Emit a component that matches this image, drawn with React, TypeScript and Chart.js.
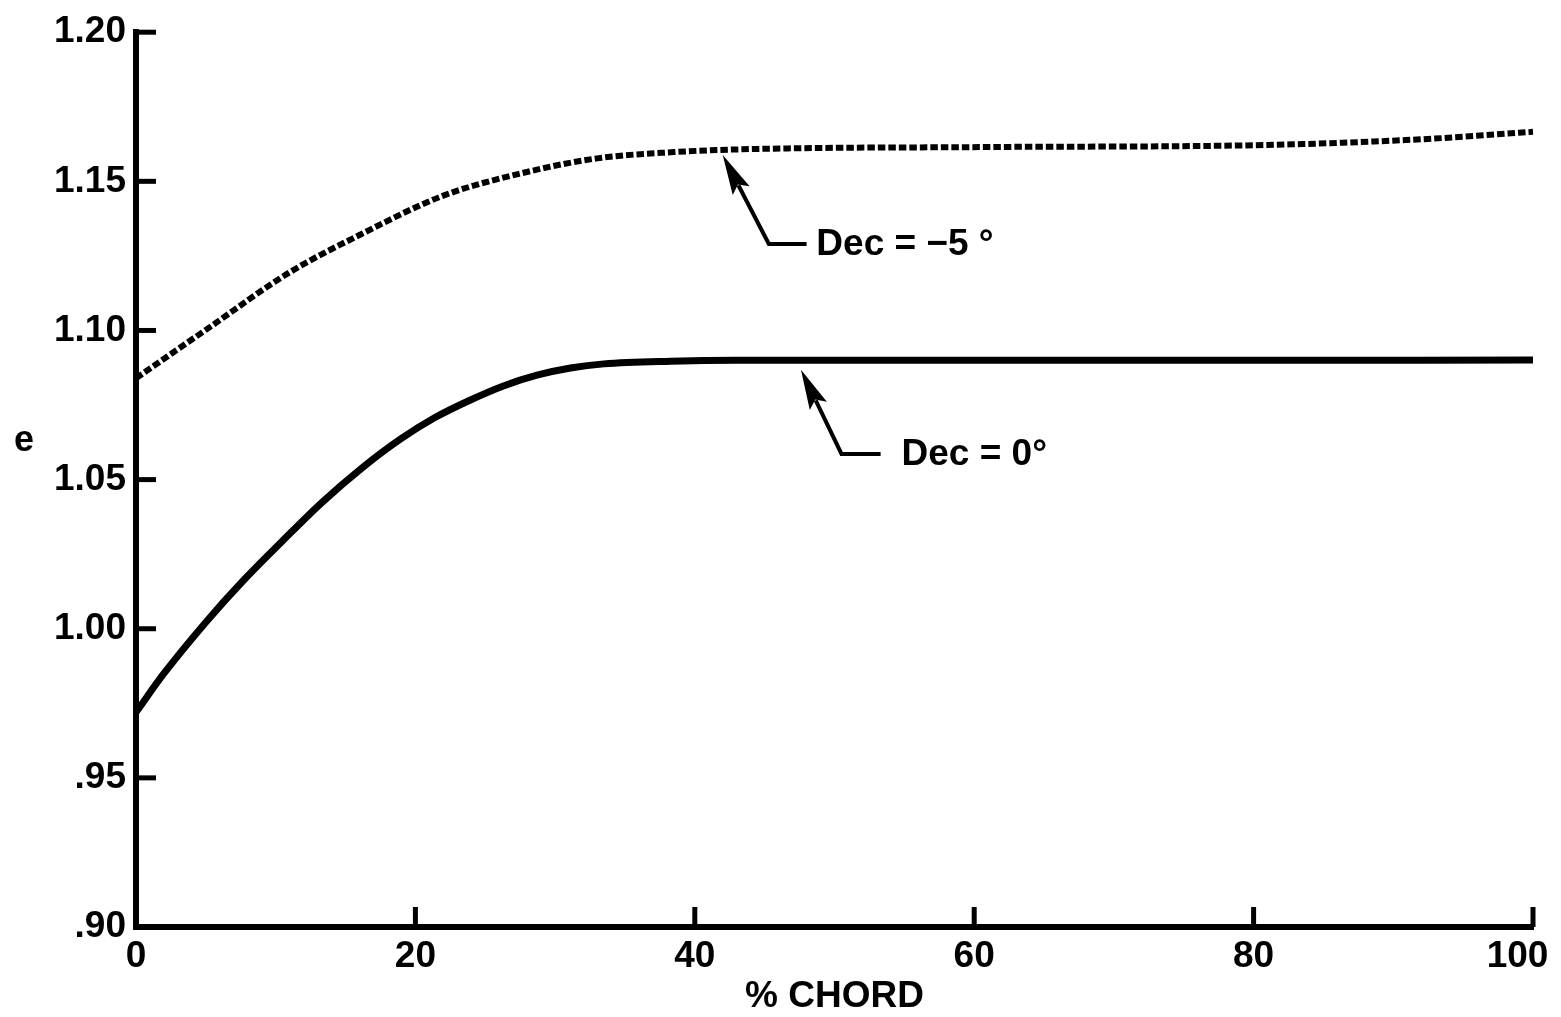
import React, { useEffect, useRef } from 'react';
import { Chart, registerables } from 'chart.js';

Chart.register(...registerables);

// ---- data (relative to its axes) ----
const DEC0_X = [0, 2, 5, 7.75, 10.5, 13.3, 16.2, 19, 21.4, 23.9, 26.3, 28.7, 31.1, 33.5, 38.3, 43, 60, 80, 100];
const DEC0_E = [0.972, 0.985, 1.0022, 1.0165, 1.0295, 1.0423, 1.054, 1.0638, 1.0708, 1.0766, 1.0814, 1.085, 1.0874, 1.0888, 1.0897, 1.09, 1.09, 1.09, 1.0901];

const DECM5_X = [0, 5, 11, 16, 22, 27.5, 33, 38.5, 43, 61, 80, 92, 100];
const DECM5_E = [1.084, 1.1002, 1.1195, 1.132, 1.1452, 1.1526, 1.1577, 1.1598, 1.1607, 1.1615, 1.1621, 1.1641, 1.1666];

const X_TICKS = [0, 20, 40, 60, 80, 100];
const Y_TICKS = [0.9, 0.95, 1.0, 1.05, 1.1, 1.15, 1.2];

const X_TITLE = '% CHORD';
const Y_TITLE = 'e';
const LABEL_DEC0 = 'Dec = 0°';
const LABEL_DECM5 = 'Dec = −5 °';

const FONT = '"Liberation Sans", Arial, Helvetica, sans-serif';

function fmtY(v: number): string {
  const s = v.toFixed(2);
  return v < 1 ? s.slice(1) : s;
}

function fmtX(v: number): string {
  // the last label sits left of its tick in the reference
  return v === 100 ? '100   ' : String(v);
}

const overlayPlugin = {
  id: 'overlay',
  afterDraw(chart: any) {
    const ctx = chart.ctx as CanvasRenderingContext2D;
    const xs = chart.scales.x;
    const ys = chart.scales.y;
    const { left, bottom } = chart.chartArea;
    ctx.save();
    ctx.strokeStyle = '#000';
    ctx.fillStyle = '#000';
    ctx.lineCap = 'butt';

    // inward tick marks
    ctx.lineWidth = 5;
    xs.ticks.forEach((t: any) => {
      if (t.value === 0) return;
      const px = xs.getPixelForValue(t.value);
      ctx.beginPath();
      ctx.moveTo(px, bottom);
      ctx.lineTo(px, bottom - 20);
      ctx.stroke();
    });
    ys.ticks.forEach((t: any) => {
      if (Math.abs(t.value - 0.9) < 1e-6) return;
      const py = ys.getPixelForValue(t.value);
      ctx.beginPath();
      ctx.moveTo(left, py);
      ctx.lineTo(left + 20, py);
      ctx.stroke();
    });

    // y-axis title (horizontal "e")
    ctx.font = `bold 36px ${FONT}`;
    ctx.textAlign = 'center';
    ctx.textBaseline = 'alphabetic';
    ctx.fillText(Y_TITLE, 24, ys.getPixelForValue(1.0625) + 9);

    // annotation arrows
    const arrow = (tipX: number, tipY: number, elbowX: number, elbowY: number, endX: number, labelX: number, label: string) => {
      const tx = xs.getPixelForValue(tipX);
      const ty = ys.getPixelForValue(tipY);
      const ex = xs.getPixelForValue(elbowX);
      const ey = ys.getPixelForValue(elbowY);
      const hx = xs.getPixelForValue(endX);
      const ang = Math.atan2(ty - ey, tx - ex);
      const L = 40;
      const W = 9.5;
      const c = Math.cos(ang);
      const s = Math.sin(ang);
      const bx = tx - L * c;
      const by = ty - L * s;
      ctx.lineWidth = 4;
      ctx.beginPath();
      ctx.moveTo(hx, ey);
      ctx.lineTo(ex, ey);
      ctx.lineTo(bx + 6 * c, by + 6 * s);
      ctx.stroke();
      ctx.beginPath();
      ctx.moveTo(tx, ty);
      ctx.lineTo(bx + W * s, by - W * c);
      ctx.lineTo(bx + 7 * c, by + 7 * s);
      ctx.lineTo(bx - W * s, by + W * c);
      ctx.closePath();
      ctx.fill();
      ctx.font = `bold 37px ${FONT}`;
      ctx.textAlign = 'left';
      ctx.textBaseline = 'middle';
      ctx.fillText(label, xs.getPixelForValue(labelX), ey + 1);
    };
    arrow(42.0, 1.1588, 45.3, 1.129, 48.0, 48.7, LABEL_DECM5);
    arrow(47.6, 1.0868, 50.5, 1.0586, 53.3, 54.8, LABEL_DEC0);

    ctx.restore();
  },
};

export default function App() {
  const canvasRef = useRef<HTMLCanvasElement | null>(null);

  useEffect(() => {
    const canvas = canvasRef.current;
    if (!canvas) return;
    const chart = new Chart(canvas, {
      type: 'line',
      data: {
        datasets: [
          {
            label: LABEL_DEC0,
            data: DEC0_X.map((x, i) => ({ x, y: DEC0_E[i] })),
            borderColor: '#000',
            borderWidth: 7,
            pointRadius: 0,
            fill: false,
            cubicInterpolationMode: 'monotone',
            clip: 8,
          },
          {
            label: LABEL_DECM5,
            data: DECM5_X.map((x, i) => ({ x, y: DECM5_E[i] })),
            borderColor: '#000',
            borderWidth: 6,
            borderDash: [7.5, 3],
            borderCapStyle: 'butt',
            pointRadius: 0,
            fill: false,
            cubicInterpolationMode: 'monotone',
            clip: 8,
          },
        ],
      } as any,
      options: {
        animation: false,
        responsive: true,
        maintainAspectRatio: false,
        layout: { padding: { top: 27, right: 67, left: 0, bottom: 0 } },
        plugins: {
          legend: { display: false },
          tooltip: { enabled: false },
        },
        scales: {
          x: {
            type: 'linear',
            min: 0,
            max: 100,
            afterBuildTicks: (s: any) => {
              s.ticks = X_TICKS.map((v) => ({ value: v }));
            },
            afterFit: (s: any) => {
              s.height = 90;
            },
            grid: { display: false, drawTicks: false },
            border: { display: true, color: '#000', width: 6 },
            ticks: {
              color: '#000',
              padding: 8,
              font: { size: 37, weight: 'bold', family: FONT },
              callback: (v: any) => fmtX(Number(v)),
            },
            title: {
              display: true,
              text: X_TITLE,
              color: '#000',
              padding: { top: 0, bottom: 0 },
              font: { size: 37, weight: 'bold', family: FONT, lineHeight: 1.1 },
            },
          },
          y: {
            type: 'linear',
            min: 0.9,
            max: 1.2,
            afterBuildTicks: (s: any) => {
              s.ticks = Y_TICKS.map((v) => ({ value: v }));
            },
            afterFit: (s: any) => {
              s.width = 136;
            },
            grid: { display: false, drawTicks: false },
            border: { display: true, color: '#000', width: 6 },
            ticks: {
              color: '#000',
              padding: 10,
              font: { size: 37, weight: 'bold', family: FONT },
              callback: (v: any) => fmtY(Number(v)),
            },
          },
        },
      } as any,
      plugins: [overlayPlugin],
    });
    return () => chart.destroy();
  }, []);

  return (
    <div
      style={{
        position: 'fixed',
        left: 0,
        top: 0,
        width: 1561,
        height: 1017,
        overflow: 'hidden',
        background: '#fff',
      }}
    >
      <div style={{ position: 'relative', width: 1600, height: 1017 }}>
        <canvas ref={canvasRef} />
      </div>
    </div>
  );
}
